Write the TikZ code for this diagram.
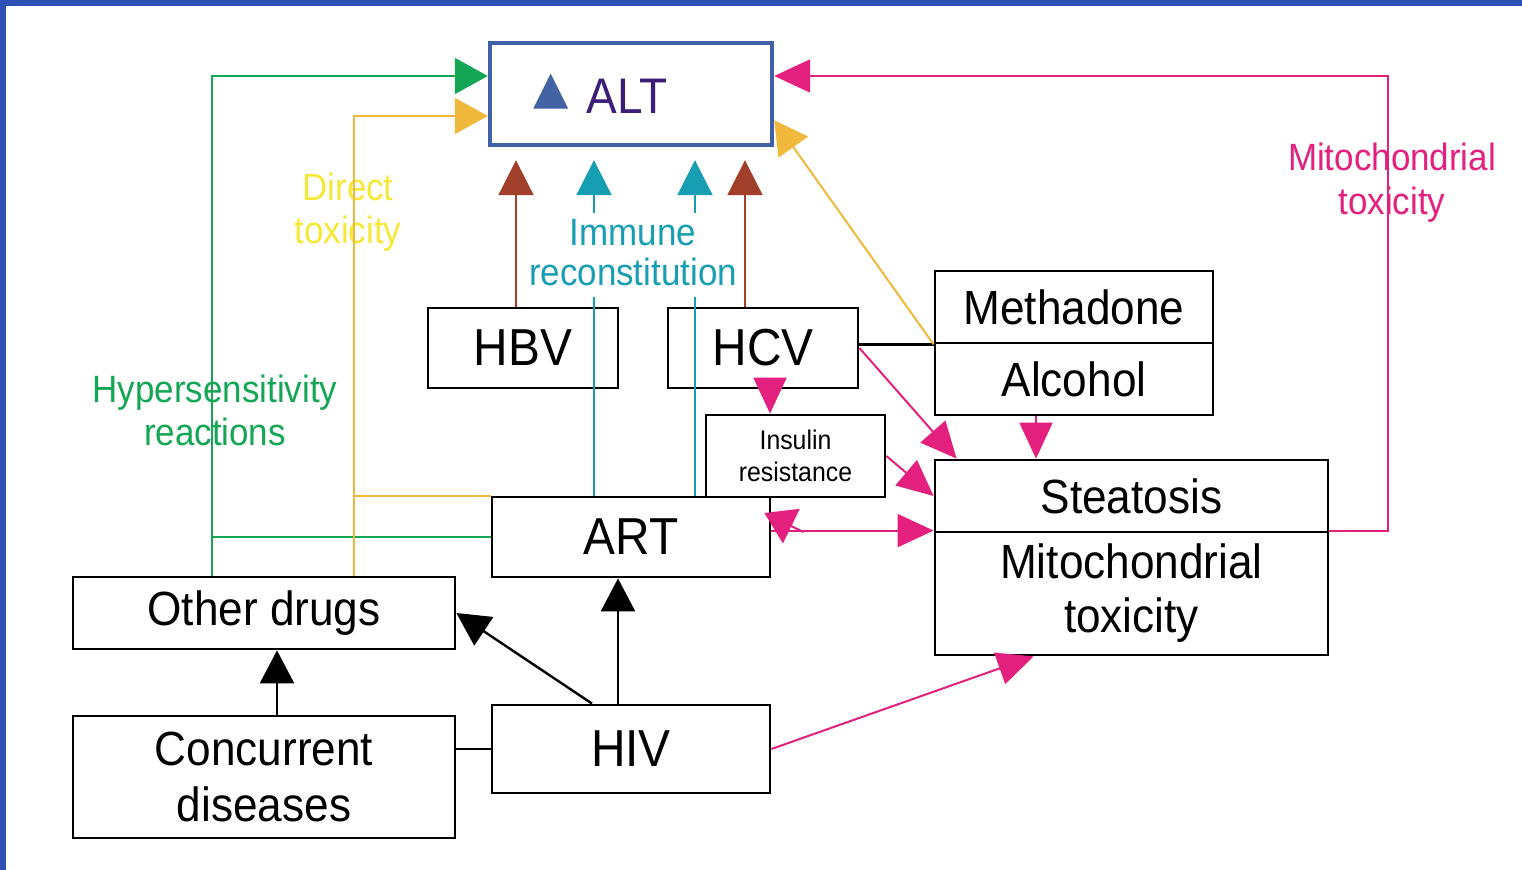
\documentclass[tikz,border=0pt]{standalone}
\usepackage{fontspec}
\setmainfont[FakeStretch=0.92]{Liberation Sans}
\newfontfamily\symfont{DejaVu Sans}
\usetikzlibrary{calc, arrows.meta}

\definecolor{frameblue}{RGB}{47,80,180}
\definecolor{altborder}{RGB}{64,96,168}
\definecolor{altblue}{RGB}{66,98,164}
\definecolor{altpurple}{RGB}{60,30,120}
\definecolor{hypgreen}{RGB}{20,166,85}
\definecolor{diryellow}{RGB}{240,185,59}
\definecolor{dirlabel}{RGB}{245,232,54}
\definecolor{hepbrown}{RGB}{162,63,43}
\definecolor{immteal}{RGB}{24,158,178}
\definecolor{mitopink}{RGB}{227,32,126}

\tikzset{
    box/.style={draw, line width=1.4pt, inner sep=0pt, align=center,
        font=\fontsize{24}{27}\selectfont},
    bigbox/.style={box, font=\fontsize{26}{28}\selectfont},
    lbl/.style={align=center, inner sep=0pt, font=\fontsize{19}{21.5}\selectfont},
    plain/.style={draw=black, line width=1.2pt},
    blackarrow/.style={plain, -{Triangle[length=16.5pt,width=17pt]}},
    greenline/.style={draw=hypgreen, line width=1pt},
    greenarrow/.style={greenline, -{Triangle[length=16.5pt,width=18pt]}},
    yellowline/.style={draw=diryellow, line width=1pt},
    yellowarrow/.style={yellowline, -{Triangle[length=16.5pt,width=18pt]}},
    brownarrow/.style={draw=hepbrown, line width=1pt, shorten >=6.5pt,
        -{Triangle[length=17.5pt,width=17.5pt]}},
    tealline/.style={draw=immteal, line width=1pt},
    tealarrow/.style={tealline, shorten >=6.5pt, -{Triangle[length=17.5pt,width=17.5pt]}},
    pinkarrow/.style={draw=mitopink, line width=1pt, -{Triangle[length=18pt,width=16.5pt]}},
    pinkhook/.style={draw=mitopink, line width=1pt, -{Triangle[length=15pt,width=19pt]}}
}

\begin{document}
\begin{tikzpicture}[x=0.5pt, y=-0.5pt]
    \useasboundingbox (0,0) rectangle (1522,870);
    \fill[frameblue] (0,0) rectangle (1522,6);
    \fill[frameblue] (0,0) rectangle (6,870);

    % boxes
    \node[draw=altborder, line width=2.2pt, minimum width=141pt, minimum height=51pt,
        inner xsep=21.5pt, text width=98pt, align=left, text=altpurple,
        font=\fontsize{25}{27}\selectfont] (alt) at (631,94)
        {\raisebox{5pt}{\symfont\fontsize{23}{23}\selectfont\color{altblue}▲}\hspace{9pt}ALT};
    \node[bigbox, minimum width=95pt, minimum height=40pt] (hbv) at (523,348) {HBV};
    \node[bigbox, minimum width=95pt, minimum height=40pt] (hcv) at (763,348) {HCV};
    \node[box, minimum width=139pt, minimum height=36pt] (meth) at (1074,307) {Methadone};
    \node[box, minimum width=139pt, minimum height=36pt] (alc) at (1074,379) {Alcohol};
    \node[box, minimum width=89.5pt, minimum height=41pt,
        font=\fontsize{13.5}{16}\selectfont] (ins) at (795.5,456) {Insulin\\resistance};
    \node[box, minimum width=196.5pt, minimum height=36pt] (stea) at (1131.5,496) {Steatosis};
    \node[box, minimum width=196.5pt, minimum height=61.5pt] (mito) at (1131.5,593.5)
        {Mitochondrial\\toxicity};
    \node[bigbox, minimum width=139pt, minimum height=40pt] (art) at (631,537) {ART};
    \node[box, minimum width=191pt, minimum height=36pt] (other) at (264,613) {Other drugs};
    \node[box, minimum width=191pt, minimum height=61pt,
        font=\fontsize{24}{28}\selectfont] (conc) at (264,777) {Concurrent\\diseases};
    \node[bigbox, minimum width=139pt, minimum height=44pt] (hiv) at (631,749) {HIV};

    % labels
    \node[lbl, text=dirlabel] (direct) at (348,212) {Direct\\toxicity};
    \node[lbl, text=hypgreen] (hyper) at (215,410) {Hypersensitivity\\reactions};
    \node[lbl, text=immteal, font=\fontsize{19}{20}\selectfont] (immune) at (633,253)
        {Immune\\reconstitution};
    \node[lbl, text=mitopink, font=\fontsize{19}{22}\selectfont] (mitolbl) at (1392,183)
        {Mitochondrial\\toxicity};

    % black
    \coordinate (hx) at (618,0);
    \draw[blackarrow] (hiv.north -| hx) -- (art.south -| hx);
    \draw[blackarrow] ($(hiv.north)+(-39,0)$) -- (other.east);
    \coordinate (cx) at (277,0);
    \draw[blackarrow] (conc.north -| cx) -- (other.south -| cx);
    \draw[plain] (conc.east |- hiv.west) -- (hiv.west);
    \draw[plain] (meth.south west -| hcv.east) -- (meth.south west);

    % green
    \coordinate (gx) at (212,76);
    \draw[greenarrow] (other.north -| gx) -- (gx) -- (alt.west |- gx);
    \draw[greenline] (art.west) -- (art.west -| gx);

    % yellow
    \coordinate (yx) at (354,116);
    \draw[yellowarrow] (other.north -| yx) -- (yx) -- (alt.west |- yx);
    \draw[yellowline] (art.north west) -- (art.north west -| yx);
    \draw[yellowarrow] (meth.south west) -- ($(alt.south east)+(0,-27)$);

    % brown
    \foreach \b/\x in {hbv/516, hcv/745}{
        \coordinate (bx) at (\x,0);
        \draw[brownarrow] (\b.north -| bx) -- (alt.south -| bx);
    }

    % teal
    \foreach \x in {594,695}{
        \coordinate (ilo) at (\x,297);
        \coordinate (ihi) at (\x,213);
        \draw[tealline] (art.north -| ilo) -- (ilo);
        \draw[tealarrow] (ihi) -- (alt.south -| ihi);
    }

    % pink
    \draw[pinkarrow] (hcv.east) -- ($(stea.north west)+(23,0)$);
    \coordinate (ax) at (1036,0);
    \draw[pinkarrow] (alc.south -| ax) -- (stea.north -| ax);
    \coordinate (hsx) at (770,0);
    \draw[pinkarrow] (hcv.south -| hsx) -- (ins.north -| hsx);
    \draw[pinkarrow] (ins.east) -- (stea.west);
    \draw[pinkarrow] (art.east |- mito.north) -- (mito.north west);
    \draw[pinkhook] ($(art.east)+(32,-5)$) -- ($(art.east)+(-7,-24)$);
    \coordinate (mx) at (1388,76);
    \draw[pinkarrow] (mito.north east) -| (mx) -- (alt.east |- mx);
    \draw[pinkarrow] (hiv.east) -- ($(mito.south west)+(100,0)$);
\end{tikzpicture}
\end{document}
